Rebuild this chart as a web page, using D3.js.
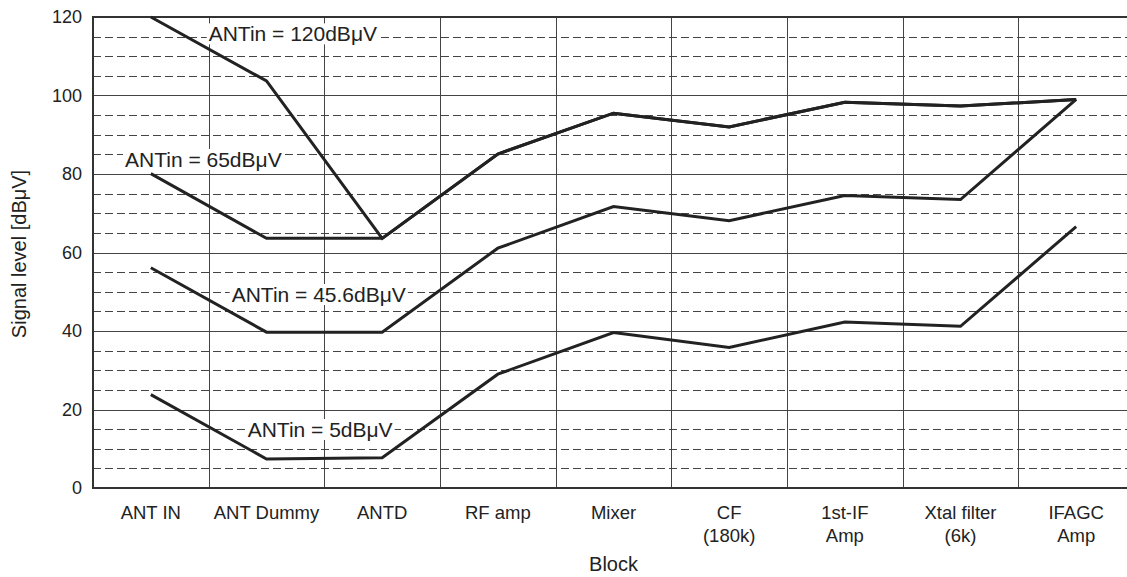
<!DOCTYPE html>
<html>
<head>
<meta charset="utf-8">
<script src="https://cdn.jsdelivr.net/npm/d3@7/dist/d3.min.js"></script>
<style>
body { margin: 0; background: #fff; }
text { font-family: "Liberation Sans", Arial, sans-serif; fill: #222; }
</style>
</head>
<body>
<svg id="chart" width="1127" height="577"></svg>
<script>
// blocks along the signal path
var blocks = ["ANT IN", "ANT Dummy", "ANTD", "RF amp", "Mixer", "CF\n(180k)", "1st-IF\nAmp", "Xtal filter\n(6k)", "IFAGC\nAmp"];

// signal level per block [dBuV]
var level120 = [120, 103.7, 63.6, 85.1, 95.5, 92.0, 98.3, 97.3, 99.0];
var level65 = [80.1, 63.6, 63.6, 85.1, 95.5, 92.0, 98.3, 97.3, 99.0];
var level456 = [56.1, 39.7, 39.7, 61.1, 71.7, 68.1, 74.5, 73.5, 99.0];
var level5 = [23.8, 7.4, 7.7, 29.0, 39.6, 35.8, 42.3, 41.2, 66.6];

var seriesNames = ["ANTin = 120dBμV", "ANTin = 65dBμV", "ANTin = 45.6dBμV", "ANTin = 5dBμV"];
var majorTicks = [0, 20, 40, 60, 80, 100, 120];
var minorTicks = d3.range(5, 120, 5).filter(function(v){ return v % 20 != 0; });

var svg = d3.select("#chart");
var pLeft = 93, pTop = 17, pBottom = 488, pRight = 1134;

var x = d3.scaleBand().domain(blocks).range([pLeft, pRight]);
var y = d3.scaleLinear().domain([0, 120]).range([pBottom, pTop]);

var grid = svg.append("g").attr("class", "grid");

// dashed minor lines
grid.selectAll(".minor").data(minorTicks).enter().append("line")
	.attr("x1", pLeft).attr("x2", pRight)
	.attr("y1", function(d){ return Math.round(y(d)) + 0.5; })
	.attr("y2", function(d){ return Math.round(y(d)) + 0.5; })
	.attr("stroke", "#444")
	.attr("stroke-width", 1)
	.attr("stroke-dasharray", "8,4");

// solid lines every 20
grid.selectAll(".major").data(majorTicks.slice(1, -1)).enter().append("line")
	.attr("x1", pLeft).attr("x2", pRight)
	.attr("y1", function(d){ return Math.round(y(d)) + 0.5; })
	.attr("y2", function(d){ return Math.round(y(d)) + 0.5; })
	.attr("stroke", "#444")
	.attr("stroke-width", 1);

// block separators
grid.selectAll(".vline").data(blocks.slice(1)).enter().append("line")
	.attr("x1", function(d){ return Math.round(x(d)) + 0.5; })
	.attr("x2", function(d){ return Math.round(x(d)) + 0.5; })
	.attr("y1", pTop).attr("y2", pBottom)
	.attr("stroke", "#444")
	.attr("stroke-width", 1);

// frame: top, left, bottom
svg.append("line").attr("x1", pLeft).attr("x2", pRight).attr("y1", pTop).attr("y2", pTop)
	.attr("stroke", "#333").attr("stroke-width", 2);
svg.append("line").attr("x1", pLeft).attr("x2", pRight).attr("y1", pBottom).attr("y2", pBottom)
	.attr("stroke", "#333").attr("stroke-width", 2);
svg.append("line").attr("x1", pLeft).attr("x2", pLeft).attr("y1", pTop - 1).attr("y2", pBottom + 1)
	.attr("stroke", "#333").attr("stroke-width", 2);

// y axis labels
var yAxis = d3.axisLeft(y).tickValues(majorTicks).tickSize(0).tickPadding(11);
var ya = svg.append("g").attr("transform", "translate(" + pLeft + ",0)").call(yAxis);
ya.select(".domain").remove();
ya.selectAll("text").style("font-size", "18px").style("font-family", '"Liberation Sans", Arial, sans-serif').attr("fill", "#222");

// x axis labels (two lines)
var xa = svg.append("g");
blocks.forEach(function(b){
	var t = xa.append("text")
		.attr("x", x(b) + x.bandwidth() / 2)
		.attr("y", 519)
		.attr("text-anchor", "middle")
		.style("font-size", "18.5px");
	b.split("\n").forEach(function(line, i){
		t.append("tspan")
			.attr("x", x(b) + x.bandwidth() / 2)
			.attr("dy", i == 0 ? 0 : 23)
			.text(line);
	});
});

// axis titles
svg.append("text")
	.attr("x", (pLeft + pRight) / 2)
	.attr("y", 571)
	.attr("text-anchor", "middle")
	.style("font-size", "20px")
	.text("Block");
svg.append("text")
	.attr("transform", "translate(26," + 254 + ") rotate(-90)")
	.attr("text-anchor", "middle")
	.style("font-size", "20px")
	.text("Signal level [dBμV]");

// annotations (white box under the text)
var notes = [
	{ text: seriesNames[0], x: x("ANT Dummy"), v: 115.7 },
	{ text: seriesNames[1], x: x("ANT IN") + 32, v: 83.7 },
	{ text: seriesNames[2], x: x("ANT Dummy") + 23, v: 49.3 },
	{ text: seriesNames[3], x: x("ANT Dummy") + 39, v: 14.9 }
];
var ng = svg.append("g");
notes.forEach(function(n){
	var g = ng.append("g");
	var t = g.append("text")
		.attr("x", n.x)
		.attr("y", y(n.v) + 7.5)
		.style("font-size", "21px")
		.text(n.text);
	var bb = t.node().getBBox();
	g.insert("rect", "text")
		.attr("x", bb.x - 2).attr("y", bb.y + 1)
		.attr("width", bb.width + 4).attr("height", bb.height - 2)
		.attr("fill", "#fff");
});

// signal lines
var line = d3.line()
	.x(function(d, i){ return x(blocks[i]) + x.bandwidth() / 2; })
	.y(function(d){ return y(d); });

svg.append("g").selectAll("path")
	.data([level120, level65, level456, level5])
	.enter().append("path")
	.attr("d", line)
	.attr("fill", "none")
	.attr("stroke", "#222")
	.attr("stroke-width", 3)
	.attr("stroke-linejoin", "miter");
</script>
</body>
</html>
